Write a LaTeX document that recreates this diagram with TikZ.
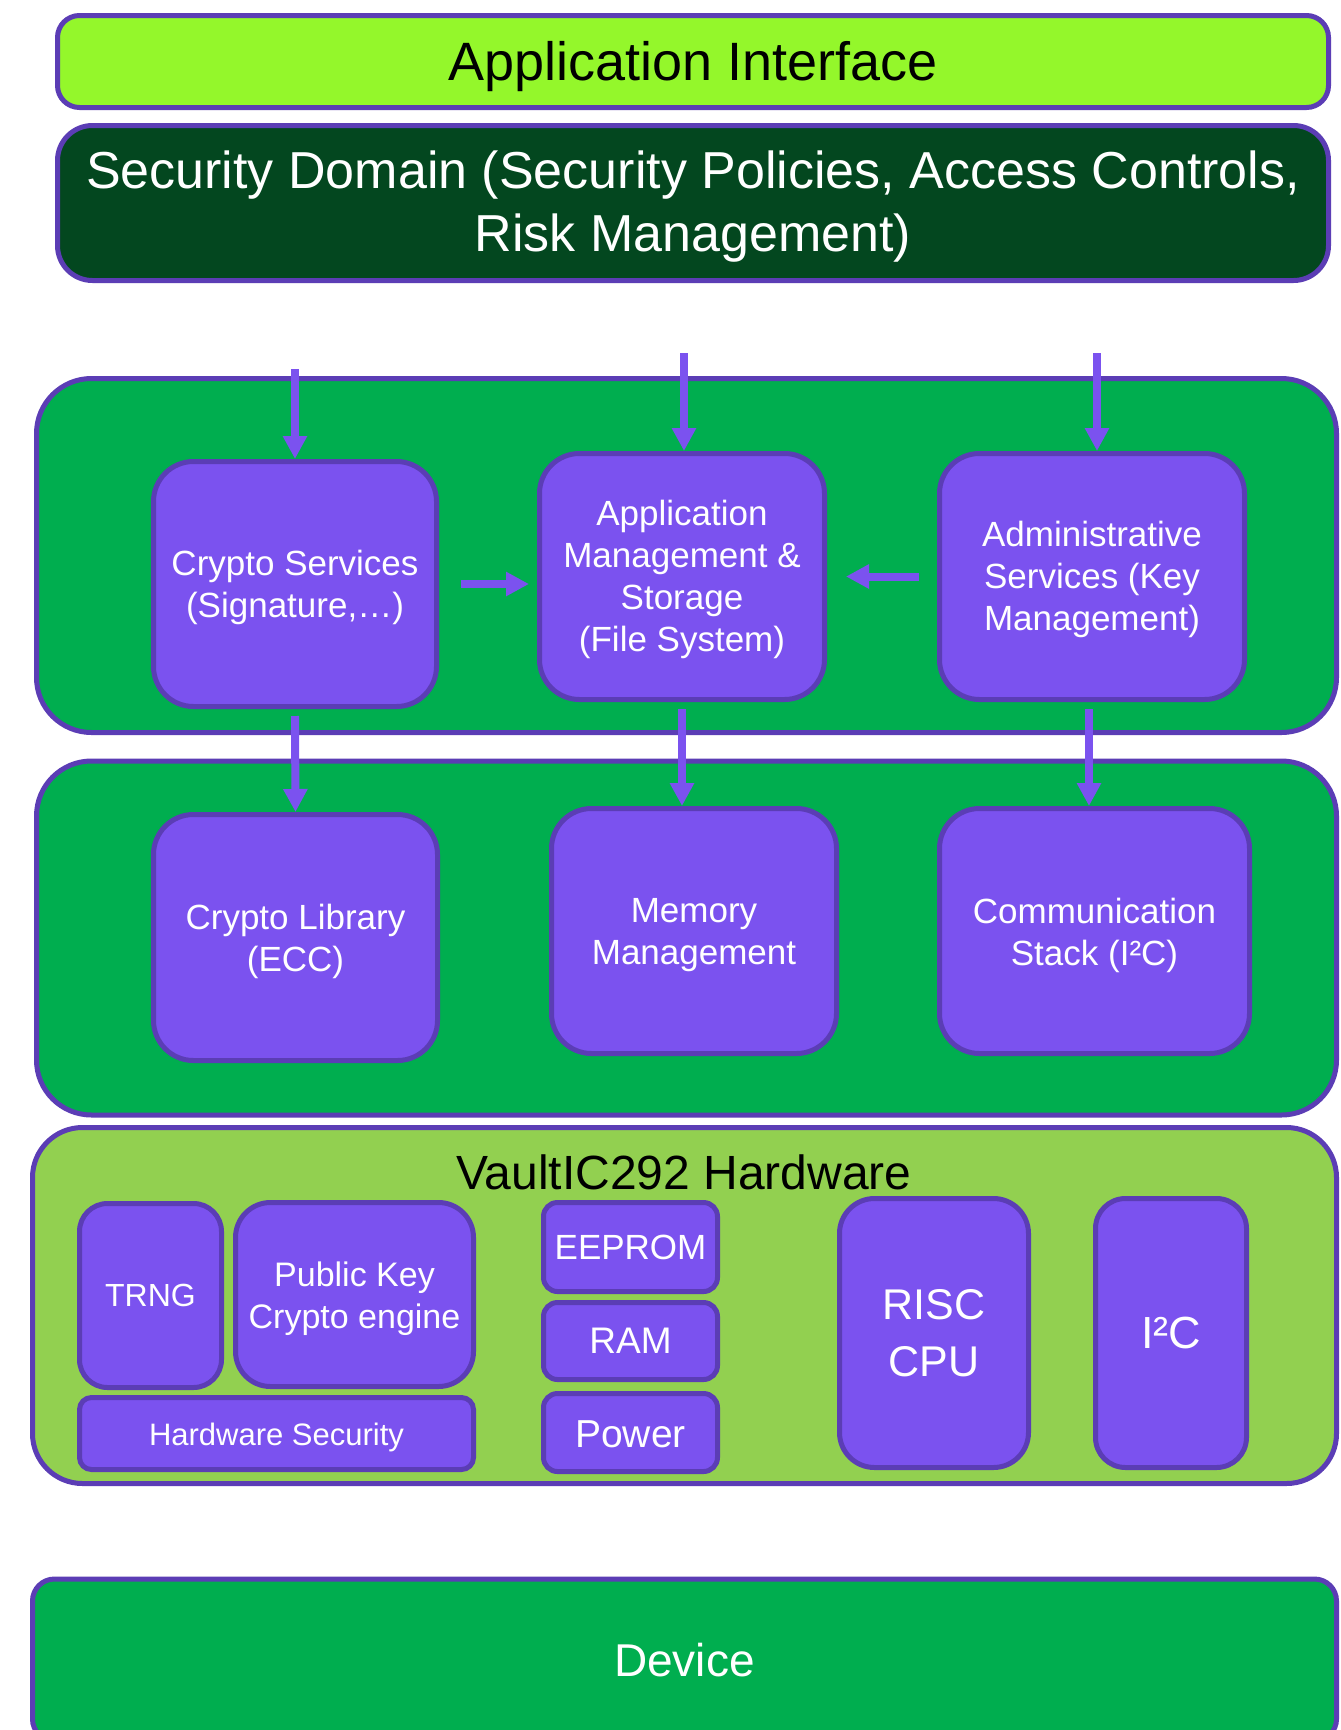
\documentclass[tikz,border=0pt]{standalone}
\usepackage{fontspec}
\setmainfont{Liberation Sans}
\usetikzlibrary{arrows.meta}
\definecolor{cLime}{HTML}{94F72B}
\definecolor{cDark}{HTML}{03471F}
\definecolor{cGreen}{HTML}{00AE4F}
\definecolor{cLight}{HTML}{92D050}
\definecolor{cFill}{HTML}{7B52EF}
\definecolor{cEdge}{HTML}{5B3DB5}
\newcommand\setfs[2]{\fontsize{#1}{#2}\selectfont}
\begin{document}
\begin{tikzpicture}[x=1pt,y=-1pt,
  blk/.style={draw=cEdge, line width=5pt, inner sep=0pt, rectangle, align=center},
  layerbox/.style={blk, fill=cGreen, rounded corners=55pt},
  ibox/.style={blk, fill=cFill, rounded corners=40pt},
  hbox/.style={blk, fill=cFill, text=white},
  wlbl/.style={inner sep=0pt, align=center, text=white, font={\setfs{35}{42}}},
  arr/.style={draw=cFill, line width=8pt, -{Triangle[length=23pt,width=23pt]}}]
\useasboundingbox (0,0) rectangle (1341,1730);
\clip (0,0) rectangle (1341,1730);
\fill[white] (0,0) rectangle (1341,1730);

% top bars
\node[blk, fill=cLime, minimum width=1271pt, minimum height=92pt, rounded corners=22pt,
  label={[inner sep=0pt, font={\setfs{54}{63}}, yshift=-5pt]center:Application Interface}] (ai) at (693,61.5) {};
\node[blk, fill=cDark, minimum width=1271pt, minimum height=155pt, rounded corners=35pt,
  label={[inner sep=0pt, align=center, text=white, font={\setfs{52}{63}}, yshift=-4pt]center:{Security Domain (Security Policies, Access Controls,\\Risk Management)}}] (sd) at (693,203) {};

% layers
\node[layerbox, minimum width=1300pt, minimum height=354pt] (g1) at (686.5,555.5) {};
\node[layerbox, minimum width=1300pt, minimum height=354pt] (g2) at (686.5,938) {};
\node[blk, fill=cLight, minimum width=1304pt, minimum height=356pt, rounded corners=50pt] (hw) at (684.5,1305.5) {};
\node[blk, fill=cGreen, text=white, minimum width=1304pt, minimum height=162pt, rounded corners=22pt,
  font={\setfs{46}{55}}] (dev) at (684.5,1660) {Device};

% services
\node[ibox, minimum width=283pt, minimum height=245pt,
  label={[wlbl, yshift=-3pt]center:{Crypto Services\\(Signature,…)}}] (cs) at (295,584) {};
\node[ibox, minimum width=285pt, minimum height=246pt,
  label={[wlbl, yshift=-3pt]center:{Application\\Management \&\\Storage\\(File System)}}] (am) at (682,576.5) {};
\node[ibox, minimum width=305pt, minimum height=246pt,
  label={[wlbl, yshift=-3pt]center:{Administrative\\Services (Key\\Management)}}] (ad) at (1092,576.5) {};

\node[ibox, minimum width=284pt, minimum height=246pt,
  label={[wlbl, yshift=-4pt]center:{Crypto Library\\(ECC)}}] (cl) at (295.5,937.5) {};
\node[ibox, minimum width=285pt, minimum height=245pt,
  label={[wlbl, yshift=-4pt]center:{Memory\\Management}}] (mm) at (694,931) {};
\node[ibox, minimum width=310pt, minimum height=245pt,
  label={[wlbl, yshift=-4pt]center:{Communication\\Stack (I²C)}}] (cm) at (1094.5,931) {};

% hardware
\node[inner sep=0pt, font={\setfs{48}{58}}] (hwt) at (684,1172) {VaultIC292 Hardware};
\node[hbox, minimum width=142pt, minimum height=184pt, rounded corners=28pt, font={\setfs{32}{40}}] (trng) at (150.5,1295.5) {TRNG};
\node[hbox, minimum width=238pt, minimum height=184pt, rounded corners=35pt,
  label={[wlbl, font={\setfs{34}{42}}, yshift=-4pt]center:{Public Key\\Crypto engine}}] (pk) at (354.5,1294.5) {};
\node[hbox, minimum width=394pt, minimum height=72pt, rounded corners=12pt,
  label={[wlbl, font={\setfs{31}{38}}, yshift=-4pt]center:Hardware Security}] (hs) at (276.5,1433.5) {};
\node[hbox, minimum width=174pt, minimum height=89pt, rounded corners=14pt, font={\setfs{35}{42}}] (ee) at (630.5,1247) {EEPROM};
\node[hbox, minimum width=174pt, minimum height=77pt, rounded corners=14pt, font={\setfs{37}{44}}] (ram) at (630.5,1341) {RAM};
\node[hbox, minimum width=174pt, minimum height=78pt, rounded corners=14pt,
  label={[wlbl, font={\setfs{39}{46}}, yshift=-2pt]center:Power}] (pw) at (630.5,1432.5) {};
\node[hbox, minimum width=189pt, minimum height=269pt, rounded corners=35pt, font={\setfs{43}{57}}] (cpu) at (934,1333) {RISC\\CPU};
\node[hbox, minimum width=151pt, minimum height=269pt, rounded corners=30pt, font={\setfs{45}{54}}] (i2c) at (1171,1333) {I²C};

% arrows
\coordinate (in1) at (295,369);
\coordinate (in2) at (684,353);
\coordinate (in3) at (1097,353);
\draw[arr] (in1) -- (in1 |- cs.north);
\draw[arr] (in2) -- (in2 |- am.north);
\draw[arr] (in3) -- (in3 |- ad.north);
\draw[arr] ([xshift=22pt]cs.east) -- ([xshift=-8pt]am.west |- cs.east);
\draw[arr] ([xshift=-18pt]ad.west) -- ([xshift=19pt]am.east);
\draw[arr] ([yshift=-7pt]cs.south) -- (cl.north);
\draw[arr] ([yshift=-7pt]am.south) -- (am.south |- mm.north);
\draw[arr] ([yshift=-7pt,xshift=-3pt]ad.south) -- ([xshift=-3pt]ad.south |- cm.north);
\end{tikzpicture}
\end{document}
